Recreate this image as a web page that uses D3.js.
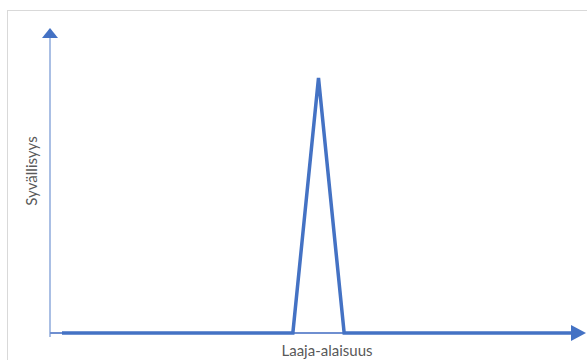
<!DOCTYPE html>
<html><head><meta charset="utf-8">
<script src="https://cdn.jsdelivr.net/npm/d3@7"></script>
<style>body{margin:0;background:#fff}svg{display:block}</style>
</head><body>
<script>
const xValues = [0, 45, 50, 55, 100];
const yValues = [0, 0, 100, 0, 0];
const xLabel = "Laaja-alaisuus";
const yLabel = "Syvällisyys";

const W = 587, H = 360;
const svg = d3.select("body").append("svg").attr("width", W).attr("height", H);

svg.append("rect").attr("x", 7.5).attr("y", 10.5).attr("width", 590).attr("height", 360)
  .attr("fill", "none").attr("stroke", "#d9d9d9").attr("stroke-width", 1);

const x = d3.scaleLinear().domain([0, 100]).range([62, 575]);
const y = d3.scaleLinear().domain([0, 100]).range([333, 78]);

const axisColor = "#4472C4";
const ox = 50, oy = y(0);

// y axis
svg.append("line").attr("x1", ox).attr("x2", ox).attr("y1", oy + 4).attr("y2", 37)
  .attr("stroke", "#8eaadb").attr("stroke-width", 1.5);
svg.append("path").attr("d", `M${ox-8},38 L${ox},28 L${ox+8},38 Z`).attr("fill", axisColor);

// x axis
svg.append("line").attr("x1", ox).attr("x2", 572).attr("y1", oy).attr("y2", oy)
  .attr("stroke", "#6f8fd0").attr("stroke-width", 2);
svg.append("path").attr("d", `M571,${oy-8} L586,${oy} L571,${oy+8} Z`).attr("fill", axisColor);

const data = xValues.map((v, i) => [v, yValues[i]]);
svg.append("path").datum(data)
  .attr("d", d3.line().x(d => x(d[0])).y(d => y(d[1])))
  .attr("fill", "none").attr("stroke", axisColor).attr("stroke-width", 3.5)
  .attr("stroke-linejoin", "miter");

svg.append("text").attr("x", 327).attr("y", 356).attr("text-anchor", "middle")
  .attr("font-family", "Lato, 'Open Sans', sans-serif").attr("font-size", 15)
  .attr("fill", "#595959").text(xLabel);
svg.append("text").attr("transform", "translate(37,171) rotate(-90)")
  .attr("text-anchor", "middle")
  .attr("font-family", "Lato, 'Open Sans', sans-serif").attr("font-size", 15)
  .attr("fill", "#595959").text(yLabel);
</script>
</body></html>
